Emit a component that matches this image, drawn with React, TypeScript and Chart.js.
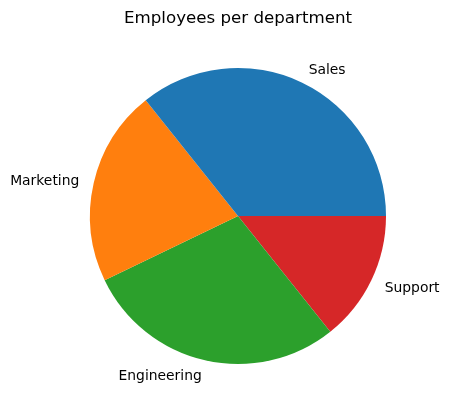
import React, { useEffect, useRef } from "react";
import { Chart, registerables } from "chart.js";

Chart.register(...registerables);

const titleText = "Employees per department";
const departments = ["Sales", "Marketing", "Engineering", "Support"];
const employees = [50, 30, 40, 20];
const sliceColors = ["#1f77b4", "#ff7f0e", "#2ca02c", "#d62728"];

// matplotlib draws counter-clockwise from 3 o'clock; Chart.js draws clockwise,
// so feed the data reversed and start at 3 o'clock.
const labelsRev = [...departments].reverse();
const valuesRev = [...employees].reverse();
const colorsRev = [...sliceColors].reverse();

const labelPlugin = {
  id: "mplLabels",
  afterDraw(chart: any) {
    const ctx = chart.ctx;
    ctx.save();
    ctx.fillStyle = "#000";
    ctx.font = '16.67px "DejaVu Sans"';
    ctx.textAlign = "center";
    ctx.textBaseline = "middle";
    ctx.fillText(titleText, 238, 19);

    ctx.font = '13.89px "DejaVu Sans"';
    const meta = chart.getDatasetMeta(0);
    meta.data.forEach((arc: any, i: number) => {
      const mid = (arc.startAngle + arc.endAngle) / 2;
      const r = arc.outerRadius * 1.1;
      const x = arc.x + Math.cos(mid) * r;
      const y = arc.y + Math.sin(mid) * r;
      ctx.textAlign = Math.cos(mid) > 0 ? "left" : "right";
      ctx.textBaseline = "middle";
      ctx.fillText(chart.data.labels[i], x, y + 1.5);
    });
    ctx.restore();
  },
};

export default function App() {
  const ref = useRef<HTMLCanvasElement>(null);
  useEffect(() => {
    const chart = new Chart(ref.current!, {
      type: "pie",
      data: {
        labels: labelsRev,
        datasets: [
          {
            data: valuesRev,
            backgroundColor: colorsRev,
            borderWidth: 0,
          },
        ],
      },
      options: {
        animation: false,
        responsive: true,
        maintainAspectRatio: false,
        rotation: 90,
        layout: { padding: { left: 90, right: 63, top: 68, bottom: 47 } },
        plugins: {
          legend: { display: false },
          title: { display: false },
          tooltip: { enabled: false },
        },
      },
      plugins: [labelPlugin],
    });
    return () => chart.destroy();
  }, []);
  return (
    <div
      style={{
        position: "absolute",
        left: 0,
        top: 0,
        width: 449,
        height: 411,
        background: "#fff",
      }}
    >
      <canvas ref={ref} />
    </div>
  );
}
